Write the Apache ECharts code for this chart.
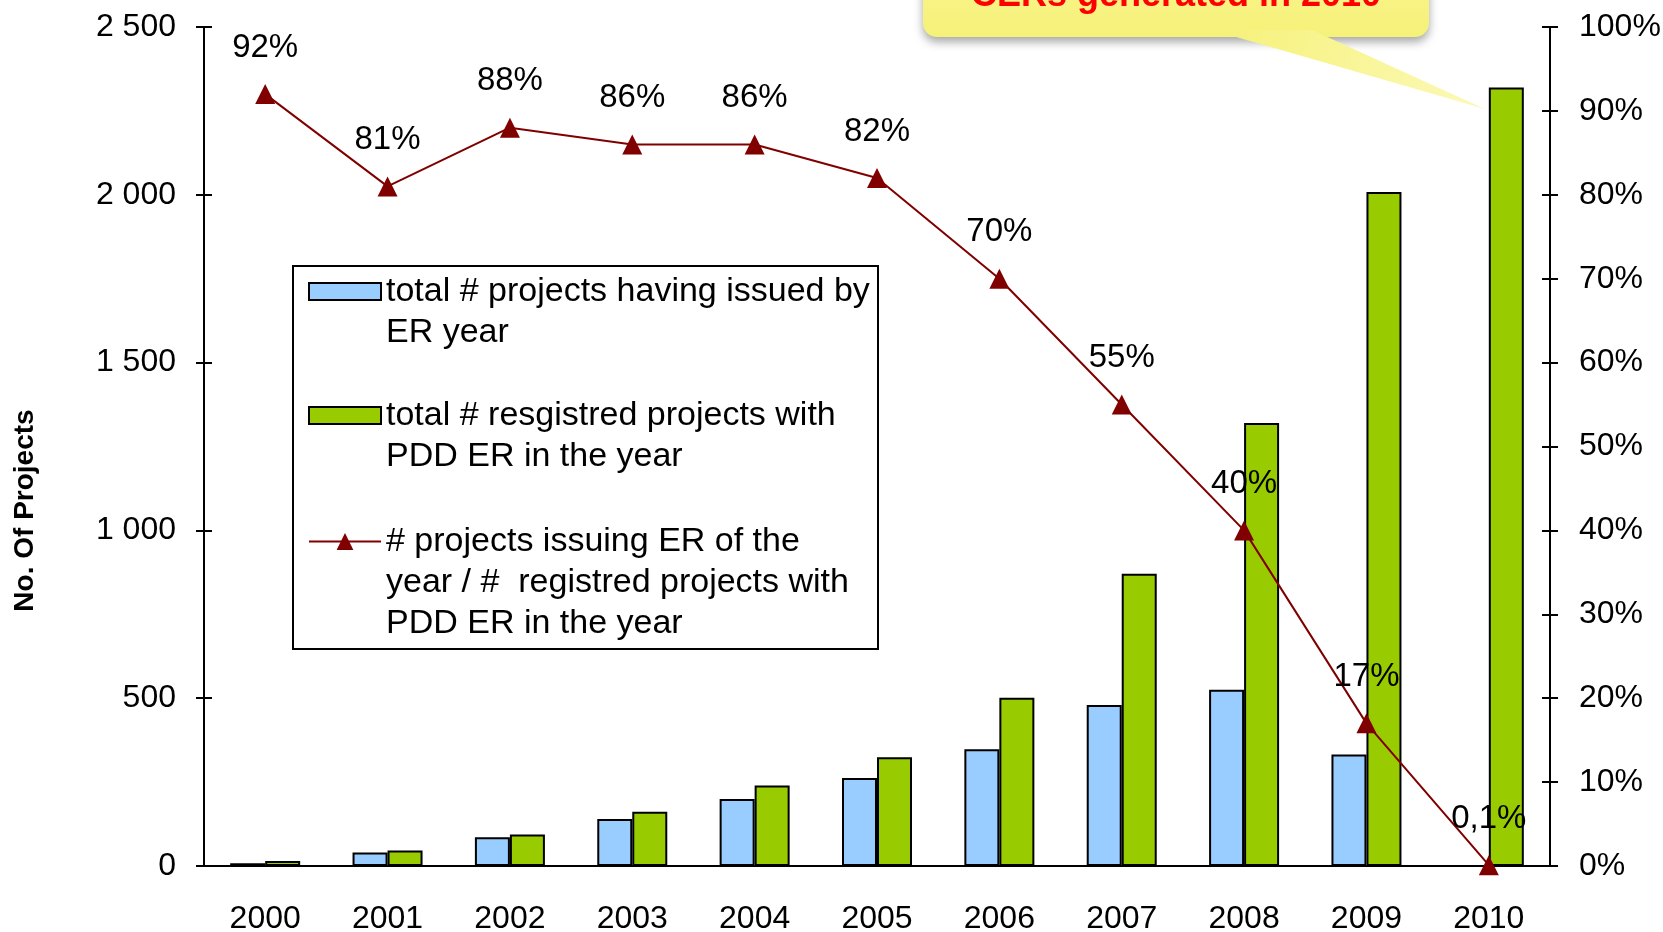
<!DOCTYPE html>
<html>
<head>
<meta charset="utf-8">
<title>Projects issuing ER</title>
<script src="https://cdn.jsdelivr.net/npm/echarts@6/dist/echarts.min.js"></script>
<style>
  html, body { margin: 0; padding: 0; background: #fff; }
  #chart { width: 1663px; height: 932px; }
</style>
</head>
<body>
<div id="chart"></div>
<script>
// categories
var years = ['2000', '2001', '2002', '2003', '2004', '2005', '2006', '2007', '2008', '2009', '2010'];
// total # projects having issued, by ER year (left axis)
var issuedProjects = [8, 40, 86, 140, 200, 262, 348, 480, 525, 332, null];
// total # registered projects with PDD ER in the year (left axis)
var registeredProjects = [15, 46, 94, 162, 240, 324, 501, 871, 1320, 2008, 2320];
// issuing / registered, in % (right axis)
var issuingShare = [92, 81, 88, 86, 86, 82, 70, 55, 40, 17, 0.1];

var seriesNames = [
  'total # projects having issued by\nER year',
  'total # resgistred projects with\nPDD ER in the year',
  '# projects issuing ER of the\nyear / #  registred projects with\nPDD ER in the year'
];
var calloutText = 'CERs generated in 2010';

var FONT = 'Liberation Sans, Arial, sans-serif';
var BLUE = '#99CCFF';
var GREEN = '#99CC00';
var DARKRED = '#800000';
var LH = 41; // legend line height

function thousands(v) {
  return String(v).replace(/\B(?=(\d{3})+(?!\d))/g, ' ');
}

// a legend per item; blank lines on top keep the icon on the first text line
function legendItem(name, lines, top, iconH, icon) {
  var pad = new Array(lines).join('\n');
  var lg = {
    data: [name],
    orient: 'vertical',
    left: 308,
    top: top,
    padding: 0,
    itemWidth: 72,
    itemHeight: iconH,
    selectedMode: false,
    formatter: function (n) { return pad + n; },
    textStyle: {
      fontFamily: FONT,
      fontSize: 34,
      color: '#000',
      lineHeight: LH
    }
  };
  if (icon) lg.icon = icon;
  return lg;
}

function valueAxis(pos, max, interval, inside, label) {
  return {
    type: 'value',
    position: pos,
    min: 0,
    max: max,
    interval: interval,
    splitLine: { show: false },
    axisLine: { show: !inside, lineStyle: { color: '#000', width: 2 } },
    axisTick: { show: true, inside: inside, length: 8, lineStyle: { color: '#000', width: 2 } },
    axisLabel: label ? label : { show: false }
  };
}

var chart = echarts.init(document.getElementById('chart'));

var option = {
  backgroundColor: '#fff',
  animation: false,
  grid: {
    left: 204,
    right: 113,
    top: 27,
    bottom: 66,
    outerBoundsMode: 'none'
  },
  legend: [
    legendItem(seriesNames[0], 2, 230, 17, 'rect'),
    legendItem(seriesNames[1], 2, 354, 17, 'rect'),
    legendItem(seriesNames[2], 3, 439, 21)
  ],
  xAxis: [
    {
      type: 'category',
      data: years,
      position: 'bottom',
      axisLine: { lineStyle: { color: '#000', width: 2 } },
      axisTick: { length: 12, lineStyle: { color: '#000', width: 2 } },
      axisLabel: { fontFamily: FONT, fontSize: 32, color: '#000', margin: 37 }
    },
    {
      type: 'category',
      data: years,
      position: 'bottom',
      axisLine: { show: false },
      axisTick: { inside: true, length: 8, lineStyle: { color: '#000', width: 2 } },
      axisLabel: { show: false }
    }
  ],
  yAxis: [
    Object.assign(valueAxis('left', 2500, 500, false, {
      fontFamily: FONT, fontSize: 32, color: '#000', margin: 28, formatter: thousands
    }), {
      name: 'No. Of Projects',
      nameLocation: 'middle',
      nameGap: 165,
      nameTextStyle: {
        fontFamily: FONT, fontSize: 28, fontWeight: 'bold', color: '#000',
        padding: [0, 128, 0, 0]
      }
    }),
    valueAxis('left', 2500, 500, true),
    valueAxis('right', 100, 10, false, {
      fontFamily: FONT, fontSize: 32, color: '#000', margin: 29, formatter: '{value}%'
    }),
    valueAxis('right', 100, 10, true)
  ],
  series: [
    {
      name: seriesNames[0],
      type: 'bar',
      data: issuedProjects,
      barWidth: 35,
      barGap: '0%',
      itemStyle: { color: BLUE, borderColor: '#000', borderWidth: 2 }
    },
    {
      name: seriesNames[1],
      type: 'bar',
      data: registeredProjects,
      barWidth: 35,
      barGap: '0%',
      itemStyle: { color: GREEN, borderColor: '#000', borderWidth: 2 }
    },
    {
      name: seriesNames[2],
      type: 'line',
      yAxisIndex: 2,
      data: issuingShare,
      z: 5,
      symbol: 'triangle',
      symbolSize: 20,
      itemStyle: { color: DARKRED },
      lineStyle: { color: DARKRED, width: 2 },
      label: {
        show: true,
        position: 'top',
        distance: 20,
        fontFamily: FONT,
        fontSize: 33,
        color: '#000',
        formatter: function (p) { return String(p.value).replace('.', ',') + '%'; }
      }
    }
  ],
  graphic: [
    // legend frame
    {
      type: 'rect',
      z: 0,
      shape: { x: 293, y: 266, width: 585, height: 383 },
      style: { fill: '#fff', stroke: '#000', lineWidth: 2 }
    },
    // callout bubble
    {
      type: 'group',
      z: 10,
      children: [
        {
          type: 'rect',
          shape: { x: 923, y: -40, width: 506, height: 77, r: 14 },
          style: {
            fill: new echarts.graphic.LinearGradient(0, 0, 0, 1, [
              { offset: 0, color: '#F9F590' },
              { offset: 1, color: '#F6F178' }
            ]),
            shadowBlur: 10,
            shadowOffsetY: 5,
            shadowColor: 'rgba(0,0,0,0.35)'
          }
        },
        {
          type: 'polygon',
          shape: { points: [[1212, 30], [1312, 30], [1485, 109]] },
          style: {
            fill: new echarts.graphic.LinearGradient(0, 0, 1, 1, [
              { offset: 0, color: '#F6F178' },
              { offset: 1, color: '#FBF9B8' }
            ])
          }
        },
        {
          type: 'text',
          style: {
            x: 1176,
            y: -4,
            text: calloutText,
            align: 'center',
            verticalAlign: 'middle',
            fontFamily: FONT,
            fontSize: 36,
            fontWeight: 'bold',
            fill: '#FF0000'
          }
        }
      ]
    }
  ]
};

chart.setOption(option);
</script>
</body>
</html>
